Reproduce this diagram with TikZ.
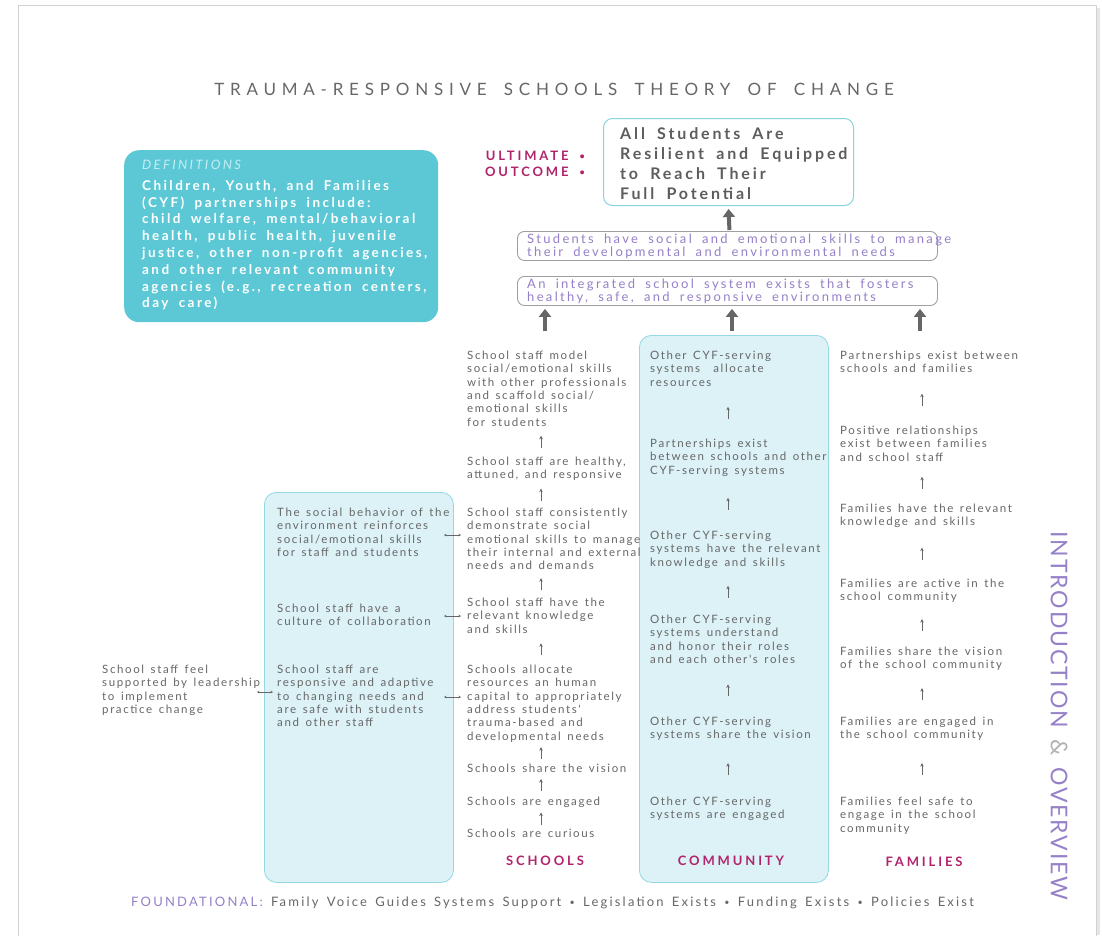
\documentclass[tikz,border=0pt]{standalone}
\usepackage{fontspec}
\setmainfont{Lato}
\newfontfamily\colfont[LetterSpace=14,WordSpace=1.45]{Lato}
\newfontfamily\titlefont[LetterSpace=34,WordSpace=1.7]{Lato}
\newfontfamily\deffont[LetterSpace=18,WordSpace=1.6]{Lato}
\newfontfamily\outfont[LetterSpace=18,WordSpace=1.7]{Lato}
\newfontfamily\boxfont[LetterSpace=18,WordSpace=1.8]{Lato}
\newfontfamily\headfont[LetterSpace=22,WordSpace=1.5]{Lato}
\newfontfamily\footfont[LetterSpace=17,WordSpace=1.5]{Lato}
\newfontfamily\sidefont[LetterSpace=8,WordSpace=1.5]{Lato}
\usetikzlibrary{arrows.meta,calc}
\definecolor{txt}{HTML}{676767}
\definecolor{defteal}{HTML}{5CC8D5}
\definecolor{deflight}{HTML}{C4EEF3}
\definecolor{pale}{HTML}{DCF2F7}
\definecolor{paleedge}{HTML}{93D8E3}
\definecolor{outedge}{HTML}{86D4DE}
\definecolor{mag}{HTML}{B1246C}
\definecolor{purp}{HTML}{9680C8}
\definecolor{arrg}{HTML}{666666}
\newcommand\myfcol{\colfont\fontsize{11.5}{13.3}\selectfont}
\newcommand\myftitle{\titlefont\fontsize{17}{19}\selectfont}
\newcommand\myfdefbody{\deffont\bfseries\fontsize{13.5}{16.8}\selectfont}
\newcommand\myfout{\outfont\bfseries\fontsize{16}{20}\selectfont}
\newcommand\myfpbox{\boxfont\fontsize{13}{13}\selectfont}
\newcommand\myfhead{\headfont\bfseries\fontsize{13}{15}\selectfont}
\newcommand\myffoot{\footfont\fontsize{13}{15}\selectfont}
\newcommand\myfside{\sidefont\fontsize{23}{25}\selectfont}
\newcommand\smbul{\raisebox{1.6pt}{\fontsize{9}{9}\selectfont •}}
\newcommand\uparr[3]{%
  \path ($(#1.south)!0.5!(#2.north)$) coordinate (tmpm);
  \draw[sarr] (tmpm -| #3) ++(0,6) -- ++(0,-12);}
\begin{document}
\begin{tikzpicture}[x=1pt,y=-1pt,
  coltext/.style={font=\myfcol, text=txt, align=left, anchor=north west, inner sep=0pt},
  sarr/.style={-{Stealth[length=3.5pt,width=3.5pt]}, line width=0.7pt, draw=txt},
  dbl/.style={{Stealth[length=2.5pt,width=2.5pt]}-{Stealth[length=2.5pt,width=2.5pt]}, line width=0.6pt, draw=txt},
  bigarr/.style={-{Triangle[length=8pt,width=12pt]}, line width=4pt, draw=arrg, fill=arrg},
  head/.style={font=\myfhead, text=mag, inner sep=0pt},
  pbox/.style={draw=gray!75, rounded corners=7pt, line width=0.9pt, minimum width=420pt, minimum height=29pt, inner sep=0pt, anchor=north west},
  ptext/.style={font=\myfpbox, text=purp, align=left, anchor=west, inner sep=0pt},
  palebox/.style={fill=pale, draw=paleedge, line width=0.8pt, rounded corners=12pt, inner sep=0pt, anchor=north west},
]
\useasboundingbox (0,0) rectangle (1102,935);
\fill[white] (0,0) rectangle (1102,935);
% page frame
\draw[gray!35, line width=1pt] (18,5) rectangle (1096,960);
\draw[gray!20, line width=3pt] (1098,8) -- (1098,935);

% title
\node[font=\myftitle, text=txt, inner sep=0pt] (title) at (554,89) {TRAUMA-RESPONSIVE SCHOOLS THEORY OF CHANGE};

% definitions
\node[fill=defteal, rounded corners=15pt, minimum width=314pt, minimum height=172pt, anchor=north west, inner sep=0pt] (defbox) at (124,150) {};
\node[font=\deffont\itshape\fontsize{13}{15}\selectfont, text=deflight, anchor=north west, inner sep=0pt] (deftitle) at (142,160) {DEFINITIONS};
\node[font=\myfdefbody, text=white, align=left, anchor=north west, inner sep=0pt] (defbody) at (142,180) {Children, Youth, and Families\\(CYF) partnerships include:\\child welfare, mental/behavioral\\health, public health, juvenile\\justice, other non-profit agencies,\\and other relevant community\\agencies (e.g., recreation centers,\\day care)};

% ultimate outcome
\node[head, anchor=east] (ult1) at (585,156) {ULTIMATE\hspace{2pt} \smbul};
\node[head, anchor=east] (ult2) at (585,172) {OUTCOME\hspace{2pt} \smbul};
\node[draw=outedge, line width=1pt, rounded corners=9pt, minimum width=250pt, minimum height=87pt, inner sep=0pt, anchor=north west] (out) at (603,118) {};
\node[font=\myfout, text=txt!90!black, align=left, anchor=west, inner sep=0pt] (outtxt) at ($(out.west)+(17,2)$) {All Students Are\\Resilient and Equipped\\to Reach Their\\Full Potential};

% intermediate outcomes
\node[pbox] (box2) at (517,231) {};
\node[ptext] (box2t) at ($(box2.west)+(10,0.5)$) {Students have social and emotional skills to manage\\their developmental and environmental needs};
\node[pbox] (box3) at (517,276) {};
\node[ptext] (box3t) at ($(box3.west)+(10,0.5)$) {An integrated school system exists that fosters\\healthy, safe, and responsive environments};

\draw[bigarr] ($(box2.north)+(2,-1)$) -- ($(out.south)+(0,3)$);
\coordinate (ga) at (545,331);
\coordinate (gb) at (732,331);
\coordinate (gc) at (920,331);
\draw[bigarr] (ga) -- ($(box3.south -| ga)+(0,3)$);
\draw[bigarr] (gb) -- ($(box3.south -| gb)+(0,3)$);
\draw[bigarr] (gc) -- ($(box3.south -| gc)+(0,3)$);

% pale boxes
\node[palebox, minimum width=189pt, minimum height=390pt] (cult) at (264,492) {};
\node[palebox, minimum width=189pt, minimum height=547pt] (comm) at (639,335) {};

% column coordinates
\coordinate (colS) at (541,0);
\coordinate (colC) at (728,0);
\coordinate (colF) at (922,0);

% schools column
\node[coltext] (s6) at (467,351) {School staff model\\social/emotional skills\\with other professionals\\and scaffold social/\\emotional skills\\for students};
\node[coltext] (s5) at (467,457) {School staff are healthy,\\attuned, and responsive};
\node[coltext] (s4) at (467,508) {School staff consistently\\demonstrate social\\emotional skills to manage\\their internal and external\\needs and demands};
\node[coltext] (s3) at (467,598) {School staff have the\\relevant knowledge\\and skills};
\node[coltext] (s2) at (467,665) {Schools allocate\\resources an human\\capital to appropriately\\address students'\\trauma-based and\\developmental needs};
\node[coltext] (s1c) at (467,764) {Schools share the vision};
\node[coltext] (s1b) at (467,797) {Schools are engaged};
\node[coltext] (s1a) at (467,829) {Schools are curious};
\uparr{s6}{s5}{colS}
\uparr{s5}{s4}{colS}
\uparr{s4}{s3}{colS}
\uparr{s3}{s2}{colS}
\uparr{s2}{s1c}{colS}
\uparr{s1c}{s1b}{colS}
\uparr{s1b}{s1a}{colS}
\node[head] (hS) at (545,861) {SCHOOLS};

% culture box text
\node[coltext] (l3) at (277,508) {The social behavior of the\\environment reinforces\\social/emotional skills\\for staff and students};
\node[coltext] (l2) at (277,604) {School staff have a\\culture of collaboration};
\node[coltext] (l1) at (277,665) {School staff are\\responsive and adaptive\\to changing needs and\\are safe with students\\and other staff};
\node[coltext] (lead) at (102,665) {School staff feel\\supported by leadership\\to implement\\practice change};

\coordinate (d1a) at (444,535); \coordinate (d1b) at (461,535);
\coordinate (d2a) at (444,616); \coordinate (d2b) at (461,616);
\coordinate (d3a) at (444,697); \coordinate (d3b) at (461,697);
\coordinate (d4a) at (257,692); \coordinate (d4b) at (273,692);
\draw[dbl] (d1a) -- (d1b);
\draw[dbl] (d2a) -- (d2b);
\draw[dbl] (d3a) -- (d3b);
\draw[dbl] (d4a) -- (d4b);

% community column
\node[coltext] (c6) at (650,351) {Other CYF-serving\\systems\ \ allocate\\resources};
\node[coltext] (c5) at (650,439) {Partnerships exist\\between schools and other\\CYF-serving systems};
\node[coltext] (c4) at (650,531) {Other CYF-serving\\systems have the relevant\\knowledge and skills};
\node[coltext] (c3) at (650,615) {Other CYF-serving\\systems understand\\and honor their roles\\and each other's roles};
\node[coltext] (c2) at (650,717) {Other CYF-serving\\systems share the vision};
\node[coltext] (c1) at (650,797) {Other CYF-serving\\systems are engaged};
\uparr{c6}{c5}{colC}
\uparr{c5}{c4}{colC}
\uparr{c4}{c3}{colC}
\uparr{c3}{c2}{colC}
\uparr{c2}{c1}{colC}
\node[head] (hC) at (731,861) {COMMUNITY};

% families column
\node[coltext] (f7) at (840,351) {Partnerships exist between\\schools and families};
\node[coltext] (f6) at (840,426) {Positive relationships\\exist between families\\and school staff};
\node[coltext] (f5) at (840,504) {Families have the relevant\\knowledge and skills};
\node[coltext] (f4) at (840,579) {Families are active in the\\school community};
\node[coltext] (f3) at (840,647) {Families share the vision\\of the school community};
\node[coltext] (f2) at (840,717) {Families are engaged in\\the school community};
\node[coltext] (f1) at (840,797) {Families feel safe to\\engage in the school\\community};
\uparr{f7}{f6}{colF}
\uparr{f6}{f5}{colF}
\uparr{f5}{f4}{colF}
\uparr{f4}{f3}{colF}
\uparr{f3}{f2}{colF}
\uparr{f2}{f1}{colF}
\node[head] (hF) at (924,862) {FAMILIES};

% side label
\node[rotate=-90, font=\myfside, text=purp, inner sep=0pt] (side) at (1059,716) {INTRODUCTION {\color{gray!60}\&} OVERVIEW};

% foundational
\node[anchor=west, inner sep=0pt, font=\myffoot, text=txt] (found) at (131,903) {{\color{purp}FOUNDATIONAL:} Family Voice Guides Systems Support \smbul{} Legislation Exists \smbul{} Funding Exists \smbul{} Policies Exist};
\end{tikzpicture}
\end{document}
